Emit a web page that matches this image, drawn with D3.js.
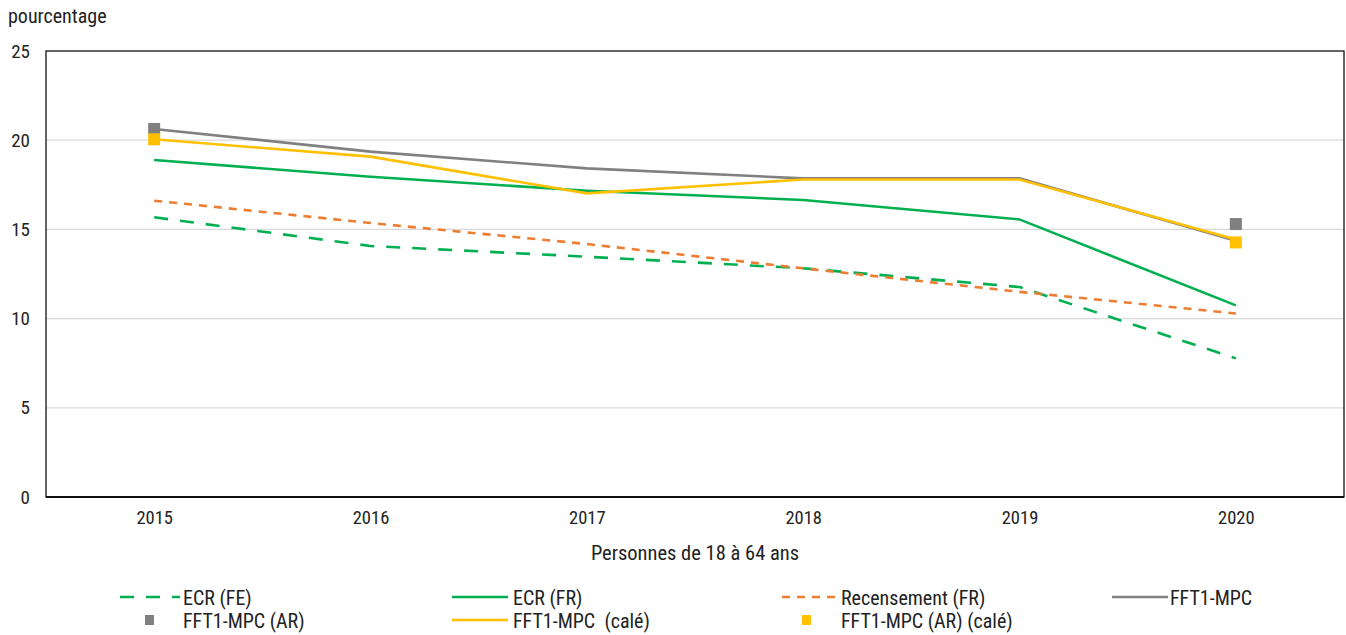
<!DOCTYPE html>
<html><head><meta charset="utf-8">
<script src="https://cdn.jsdelivr.net/npm/d3@7"></script>
<style>
body{margin:0;background:#fff;}
text{font-family:"Liberation Sans Narrow","Roboto Condensed",Roboto,"Liberation Sans",Arial,sans-serif;fill:#222;}
</style></head><body>
<svg id="c" width="1346" height="635"></svg>
<script>
const years = ["2015","2016","2017","2018","2019","2020"];
const ecrFE = [15.68, 14.07, 13.47, 12.82, 11.77, 7.77];
const ecrFR = [18.89, 17.95, 17.17, 16.65, 15.56, 10.74];
const recensement = [16.61, 15.36, 14.18, 12.82, 11.5, 10.29];
const fft1 = [20.63, 19.36, 18.42, 17.86, 17.86, 14.37];
const fft1AR = [20.63, null, null, null, null, 15.3];
const fft1Cale = [20.05, 19.08, 17.02, 17.8, 17.8, 14.43];
const fft1ARCale = [20.05, null, null, null, null, 14.27];
const yTicks = [0, 5, 10, 15, 20, 25];
const yTitle = "pourcentage";
const xTitle = "Personnes de 18 à 64 ans";

const series = [
  {name:"ECR (FE)", values:ecrFE, color:"#00b050", type:"line", dash:"14,12"},
  {name:"ECR (FR)", values:ecrFR, color:"#00b050", type:"line", dash:null},
  {name:"Recensement (FR)", values:recensement, color:"#ed7d31", type:"line", dash:"8,7"},
  {name:"FFT1-MPC", values:fft1, color:"#808080", type:"line", dash:null},
  {name:"FFT1-MPC (AR)", values:fft1AR, color:"#808080", type:"point"},
  {name:"FFT1-MPC  (calé)", values:fft1Cale, color:"#ffc000", type:"line", dash:null},
  {name:"FFT1-MPC (AR) (calé)", values:fft1ARCale, color:"#ffc000", type:"point"}
];

const svg = d3.select("#c");
const L=46, R=1344, T=51, B=497;
const x = d3.scalePoint().domain(years).range([L,R]).padding(0.5);
const y = d3.scaleLinear().domain([0,25]).range([B,T]);

// gridlines
svg.append("g").selectAll("line").data(yTicks.filter(d=>d>0&&d<25)).join("line")
  .attr("x1",L).attr("x2",R).attr("y1",d=>y(d)).attr("y2",d=>y(d))
  .attr("stroke","#d9d9d9").attr("stroke-width",1.3);

// frame
svg.append("rect").attr("x",L).attr("y",T).attr("width",R-L).attr("height",B-T)
  .attr("fill","none").attr("stroke","#111").attr("stroke-width",1.3);
svg.append("line").attr("x1",L).attr("x2",R).attr("y1",B).attr("y2",B).attr("stroke","#111").attr("stroke-width",2);

// axes
const ya = svg.append("g").attr("transform",`translate(${L},0)`)
  .call(d3.axisLeft(y).tickValues(yTicks).tickSize(0).tickPadding(16));
ya.select(".domain").remove();
ya.selectAll("text").attr("font-size",19).style("font-family",null).attr("fill","#222");

const xa = svg.append("g").attr("transform",`translate(0,${B})`)
  .call(d3.axisBottom(x).tickSize(0).tickPadding(14));
xa.select(".domain").remove();
xa.selectAll("text").attr("font-size",18.5).style("font-family",null).attr("fill","#222");

svg.append("text").attr("x",8).attr("y",23).attr("font-size",20).text(yTitle);
svg.append("text").attr("x",(L+R)/2).attr("y",560).attr("font-size",20.5).attr("text-anchor","middle").text(xTitle);

// series
const line = d3.line().defined(d=>d.v!=null).x(d=>x(d.k)).y(d=>y(d.v));
series.forEach(s=>{
  const pts = years.map((k,i)=>({k, v:s.values[i]}));
  if(s.type==="line"){
    svg.append("path").datum(pts).attr("d",line).attr("fill","none")
      .attr("stroke",s.color).attr("stroke-width",2.6)
      .attr("stroke-dasharray",s.dash);
  } else {
    svg.append("g").selectAll("rect").data(pts.filter(d=>d.v!=null)).join("rect")
      .attr("x",d=>x(d.k)-6).attr("y",d=>y(d.v)-6).attr("width",12).attr("height",12)
      .attr("fill",s.color);
  }
});

// legend
const legPos = [
  {sx:120, sw:60, tx:183, ty:598},
  {sx:452, sw:56, tx:513, ty:598},
  {sx:782, sw:56, tx:841, ty:598},
  {sx:1112, sw:56, tx:1170, ty:598},
  {sx:120, sw:60, tx:183, ty:621},
  {sx:452, sw:56, tx:513, ty:621},
  {sx:782, sw:56, tx:841, ty:621}
];
const leg = svg.append("g");
series.forEach((s,i)=>{
  const p = legPos[i];
  if(s.type==="line"){
    leg.append("line").attr("x1",p.sx).attr("x2",p.sx+p.sw).attr("y1",p.ty-1).attr("y2",p.ty-1)
      .attr("stroke",s.color).attr("stroke-width",2.6).attr("stroke-dasharray",s.dash);
  } else {
    leg.append("rect").attr("x",p.sx+p.sw/2-5+(i===6?-3:0)).attr("y",p.ty-6).attr("width",9).attr("height",10).attr("fill",s.color);
  }
  leg.append("text").attr("x",p.tx).attr("y",p.ty+7).attr("font-size",20).text(s.name).style("white-space","pre").attr("xml:space","preserve");
});
</script></body></html>
